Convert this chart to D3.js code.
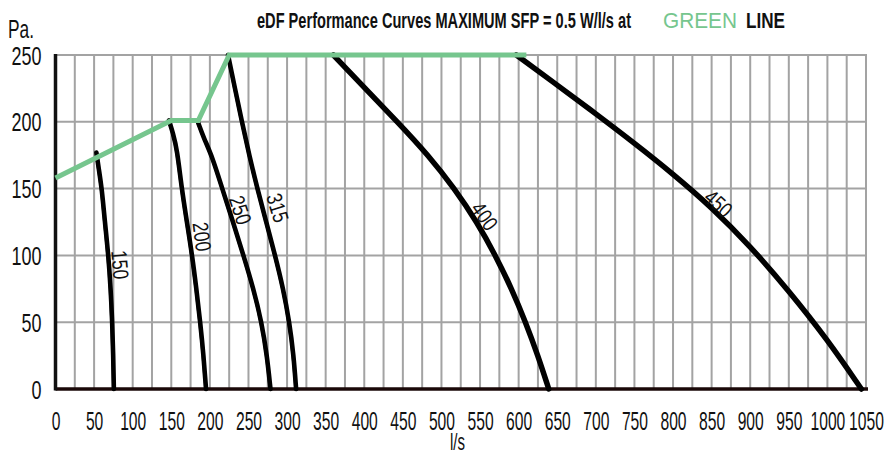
<!DOCTYPE html>
<html><head><meta charset="utf-8">
<script src="https://cdn.jsdelivr.net/npm/d3@7"></script>
<style>body{margin:0;background:#fff} svg{display:block}</style>
</head><body>
<svg id="c" width="887" height="452"></svg>
<script>
// ---- data ----
const xTicks = [0,50,100,150,200,250,300,350,400,450,500,550,600,650,700,750,800,850,900,950,1000,1050];
const yTicks = [0,50,100,150,200,250];
const curveNames = ["150","200","250","315","400","450"];
const curve150 = [[53,177],[56,165],[60,150],[64,125],[68.5,100],[71.5,75],[73.5,50],[74.8,25],[75.6,0]];
const curve200 = [[147,201],[152,192],[157.6,179],[163.5,150],[170.5,124],[177,100],[182.5,75],[187.5,50],[191.8,25],[195,0]];
const curve250 = [[184.4,200],[192,188],[203,174],[216,150],[230,125],[243.5,100],[256.5,75],[267,50],[274,25],[278.5,0]];
const curve315 = [[223.5,250],[232.5,225],[241.5,200],[251,175],[261.5,150],[273,125],[284.5,100],[295,75],[303,50],[308.5,25],[311.7,0]];
const curve400 = [[360,250],[401,225],[443,200],[483,175],[517,150],[546,125],[570,100],[591,75],[609,50],[625,25],[639,0]];
const curve450 = [[597,250],[650,227.5],[700,206],[750,184],[800,161],[850,136],[900,107],[950,73.5],[1000,37],[1044,0]];
const curves = [curve150,curve200,curve250,curve315,curve400,curve450];
// label anchor (l/s, Pa) for each curve name
const labelAt = [[84,93],[190,114],[239.6,134],[288,135.6],[556,129.4],[859,139]];
const labelAngle = [85,83,72,73,55,42];
const greenLine = [[0,158],[150,201],[185,201],[225,250],[610,250]];
const titleMain = "eDF Performance Curves MAXIMUM SFP = 0.5 W/l/s at";
const titleGreen = "GREEN";
const titleEnd = "LINE";
const yUnit = "Pa.";
const xUnit = "l/s";

// ---- drawing ----
const FONT = "'Liberation Sans',Arial,sans-serif";
const GREEN = "#76c68e";
const svg = d3.select("#c");
const x = d3.scaleLinear().domain([0,1050]).range([55.5,866]);
const y = d3.scaleLinear().domain([0,250]).range([389,55]);
function squeeze(sel, len){ sel.attr("textLength",len).attr("lengthAdjust","spacingAndGlyphs"); }

const grid = svg.append("g").attr("stroke","#a3a3a3").attr("stroke-width",2);
grid.selectAll("line.v").data(d3.range(25,1051,25)).join("line")
  .attr("x1",d=>x(d)).attr("x2",d=>x(d)).attr("y1",y(0)).attr("y2",y(250)-1);
grid.selectAll("line.h").data(yTicks.filter(d=>d>0)).join("line")
  .attr("x1",x(0)).attr("x2",x(1050)+1).attr("y1",d=>y(d)).attr("y2",d=>y(d));

// axes
const xAxis = svg.append("g").attr("transform",`translate(0,${y(0)})`)
  .call(d3.axisBottom(x).tickValues(xTicks).tickSize(0).tickPadding(23).tickFormat(d3.format("d")));
xAxis.select(".domain").remove();
xAxis.selectAll("text").attr("font-family",FONT).attr("font-size",25).attr("fill","#111")
  .each(function(d){ squeeze(d3.select(this), String(d).length*8.7); });
const yAxis = svg.append("g").attr("transform",`translate(${x(0)},0)`)
  .call(d3.axisLeft(y).tickValues(yTicks).tickSize(0).tickPadding(14).tickFormat(d3.format("d")));
yAxis.select(".domain").remove();
yAxis.selectAll("text").attr("font-family",FONT).attr("font-size",25).attr("fill","#111").attr("dy","0.36em")
  .each(function(d){ squeeze(d3.select(this), String(d).length*10); });

svg.append("line").attr("x1",x(0)).attr("x2",x(1050)+2).attr("y1",y(0)).attr("y2",y(0))
  .attr("stroke","#1a0808").attr("stroke-width",3.5);
svg.append("line").attr("x1",x(0)).attr("x2",x(0)).attr("y1",y(0)+1.5).attr("y2",y(250)-1)
  .attr("stroke","#111").attr("stroke-width",3.5);

// curves (thin companion + thick main)
const line = d3.line().x(d=>x(d[0])).y(d=>y(d[1])).curve(d3.curveBasis);
svg.append("g").selectAll("path").data(curves).join("path")
  .attr("d",d=>line(d.map(p=>[p[0]-1.8,p[1]]))).attr("fill","none").attr("stroke","#333").attr("stroke-width",1);
svg.append("g").selectAll("path").data(curves).join("path")
  .attr("d",line).attr("fill","none").attr("stroke","#000")
  .attr("stroke-width",(d,i)=>i>=4?5.5:4.6).attr("stroke-linecap","round");

// green line
svg.append("path").datum(greenLine).attr("d",d3.line().x(d=>x(d[0])).y(d=>y(d[1])))
  .attr("fill","none").attr("stroke",GREEN).attr("stroke-width",5).attr("stroke-linejoin","miter");

// curve labels
svg.append("g").selectAll("text").data(curveNames).join("text")
  .attr("transform",(d,i)=>`translate(${x(labelAt[i][0])},${y(labelAt[i][1])}) rotate(${labelAngle[i]})`)
  .attr("text-anchor","middle").attr("dy","0.36em")
  .attr("font-family",FONT).attr("font-size",22).attr("fill","#111").text(d=>d)
  .call(s=>squeeze(s,29));

// titles
const tb = svg.append("g").attr("font-family",FONT).attr("font-size",22);
tb.append("text").attr("x",257).attr("y",28).attr("font-weight","bold").attr("fill","#111").text(titleMain).call(s=>squeeze(s,374));
tb.append("text").attr("x",663).attr("y",28).attr("fill",GREEN).text(titleGreen).call(s=>squeeze(s,74));
tb.append("text").attr("x",746).attr("y",28).attr("font-weight","bold").attr("fill","#111").text(titleEnd).call(s=>squeeze(s,39));

svg.append("text").attr("x",8).attr("y",38).attr("font-family",FONT).attr("font-size",25).attr("fill","#111").text(yUnit).call(s=>squeeze(s,26));
svg.append("text").attr("x",450).attr("y",450).attr("font-family",FONT).attr("font-size",24).attr("fill","#111").text(xUnit).call(s=>squeeze(s,15));
</script>
</body></html>
